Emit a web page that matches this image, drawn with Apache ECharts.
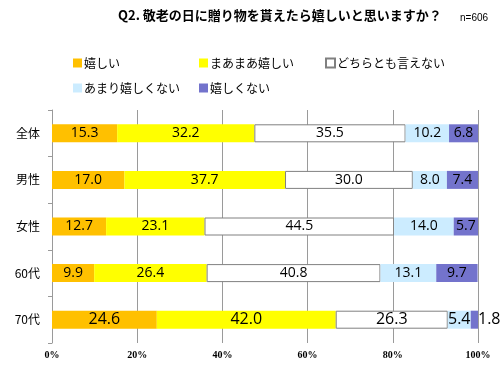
<!DOCTYPE html>
<html><head><meta charset="utf-8">
<script src="https://cdn.jsdelivr.net/npm/echarts@6/dist/echarts.min.js"></script>
<style>html,body{margin:0;padding:0;background:#fff}#c{width:500px;height:366px}</style>
</head><body><div id="c"></div>
<script>
const titleText = 'Q2. 敬老の日に贈り物を貰えたら嬉しいと思いますか？';
const sampleText = 'n=606';
const categories = ['全体','男性','女性','60代','70代'];
const seriesNames = ['嬉しい','まあまあ嬉しい','どちらとも言えない','あまり嬉しくない','嬉しくない'];
const ureshii = [15.3,17.0,12.7,9.9,24.6];
const maamaa = [32.2,37.7,23.1,26.4,42.0];
const dochira = [35.5,30.0,44.5,40.8,26.3];
const amari = [10.2,8.0,14.0,13.1,5.4];
const ureshikunai = [6.8,7.4,5.7,9.7,1.8];
const xTicks = [0,20,40,60,80,100];

const colors = ['#FFC000','#FFFF00','#FFFFFF','#CCECFF','#7373CC'];
const allData = [ureshii, maamaa, dochira, amari, ureshikunai];
const labelFont = "'Open Sans','Liberation Sans',sans-serif";

const series = allData.map((arr, si) => ({
  name: seriesNames[si],
  type: 'bar',
  stack: 'total',
  barWidth: 18,
  itemStyle: si === 2 ? {color: '#FFFFFF', borderColor: '#808080', borderWidth: 1} : {color: colors[si]},
  label: {show: true, position: 'inside', color: '#000', fontSize: 14, fontFamily: labelFont,
          formatter: p => p.value.toFixed(1)},
  data: arr.map((v, i) => {
    const d = {value: v};
    if (i === 4) {
      d.label = {fontSize: 16};
      if (si === 4) d.label = {fontSize: 16, position: 'right', distance: 0};
    }
    return d;
  })
}));

const legendPos = [[68,52],[194,52],[320,52],[68,77],[194,77]];
const legends = seriesNames.map((n, i) => ({
  data: [n], left: legendPos[i][0], top: legendPos[i][1],
  itemWidth: 9, itemHeight: 9, icon: 'rect', itemGap: 3,
  textStyle: {fontSize: 12, color: '#000', fontFamily: "'Noto Sans CJK JP',sans-serif", padding: [0,0,0,-3]},
  selectedMode: false
}));

const chart = echarts.init(document.getElementById('c'), null, {renderer: 'canvas'});
chart.setOption({
  animation: false,
  backgroundColor: '#fff',
  title: [
    {text: titleText, left: 113, top: 4, textStyle: {fontSize: 13, fontWeight: 'bold', color: '#000', fontFamily: "'Noto Sans CJK JP',sans-serif"}},
    {text: sampleText, left: 455, top: 8, textStyle: {fontSize: 10, fontWeight: 'normal', color: '#000', fontFamily: "'Liberation Sans',sans-serif"}}
  ],
  legend: legends,
  grid: {left: 52, right: 22, top: 110, bottom: 23, containLabel: false},
  xAxis: {
    type: 'value', min: 0, max: 100, interval: 20,
    axisLine: {show: false}, axisTick: {show: false},
    splitLine: {show: true, lineStyle: {color: '#9a9a9a', width: 1}},
    axisLabel: {formatter: v => xTicks.includes(v) ? v + '%' : '', fontSize: 10, fontWeight: 'bold', color: '#000',
                fontFamily: "'Liberation Serif',serif", margin: 7}
  },
  yAxis: {
    type: 'category', data: categories, inverse: true,
    axisLine: {show: true, lineStyle: {color: '#9a9a9a'}},
    axisTick: {show: true, length: 4, lineStyle: {color: '#9a9a9a'}},
    axisLabel: {fontSize: 12, color: '#000', margin: 12, fontFamily: "'Noto Sans CJK JP',sans-serif"}
  },
  series: series
});
</script></body></html>
